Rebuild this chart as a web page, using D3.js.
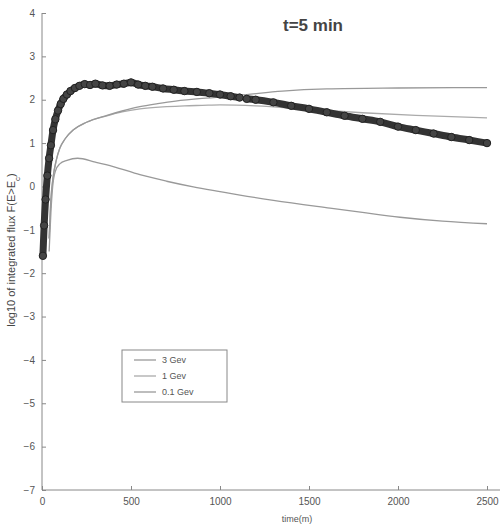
<!DOCTYPE html>
<html>
<head>
<meta charset="utf-8">
<script src="https://cdn.jsdelivr.net/npm/d3@7"></script>
<style>
body { margin: 0; background: #fff; }
svg text { font-family: "Liberation Sans", Arial, sans-serif; fill: #555; }
</style>
</head>
<body>
<svg id="chart" width="503" height="529"></svg>
<script>
// measured series, log10 flux vs time (min)
const dataT = [5,12,20,30,40,50,62,75,90,105,120,140,160,185,210,240,270,300,340,380,420,460,500,540,580,620,680,740,800,870,940,1000,1060,1110,1130,1150,1200,1300,1400,1500,1600,1700,1800,1900,2000,2100,2200,2300,2400,2500]
const dataV = [-1.6,-0.9,-0.3,0.25,0.65,0.95,1.3,1.55,1.75,1.9,2.02,2.12,2.2,2.27,2.32,2.36,2.34,2.37,2.33,2.32,2.35,2.37,2.4,2.35,2.32,2.3,2.26,2.23,2.2,2.18,2.15,2.12,2.08,2.05,null,2.02,2.0,1.94,1.86,1.79,1.71,1.63,1.56,1.49,1.38,1.3,1.22,1.14,1.07,1.0]

const gev01T = [40,50,62,80,100,130,175,250,365,450,550,650,750,900,1000,1150,1350,1600,2000,2500]
const gev01V = [-1.2,-0.3,0.2,0.6,0.88,1.1,1.3,1.48,1.64,1.74,1.84,1.91,1.97,2.03,2.06,2.12,2.2,2.25,2.27,2.28]

const gev1T = [40,50,62,80,100,130,175,250,365,450,550,700,800,900,1000,1200,1500,1800,2100,2500]
const gev1V = [-1.2,-0.3,0.2,0.6,0.88,1.1,1.3,1.48,1.63,1.72,1.79,1.84,1.86,1.87,1.88,1.86,1.78,1.7,1.64,1.58]

const gev3T = [40,50,60,75,100,140,200,300,400,550,700,850,1000,1112,1300,1618,1800,2011,2250,2500]
const gev3V = [-1.5,-0.6,0.0,0.35,0.52,0.6,0.65,0.56,0.46,0.27,0.12,-0.01,-0.12,-0.2,-0.32,-0.5,-0.6,-0.71,-0.8,-0.86]

const legendLabels = ['3 Gev','1 Gev','0.1 Gev']
const xTicks = [0,500,1000,1500,2000,2500]
const yTicks = [-7,-6,-5,-4,-3,-2,-1,0,1,2,3,4]

const svg = d3.select('#chart')

let x = d3.scaleLinear().domain([0,2500]).range([42,487])
let y = d3.scaleLinear().domain([-7,4]).range([490,13])

const zip = (ts, vs) => ts.map((t,i) => ({t:t, v:vs[i]}))

// axes, matlab style ticks pointing in
const xAxis = svg.append('g')
.attr('transform','translate(0,490)')
.call(d3.axisBottom(x).tickValues(xTicks).tickSize(-4).tickPadding(8).tickFormat(d3.format('d')))

const yAxis = svg.append('g')
.attr('transform','translate(42,0)')
.call(d3.axisLeft(y).tickValues(yTicks).tickSize(-4).tickPadding(7).tickFormat(d3.format('d')))

svg.selectAll('.domain').remove()
svg.append('line').attr('x1',42).attr('x2',500).attr('y1',490).attr('y2',490).attr('stroke','#888')
svg.append('line').attr('x1',42).attr('x2',42).attr('y1',13).attr('y2',490).attr('stroke','#888')

svg.selectAll('.tick line').attr('stroke','#888')
svg.selectAll('.tick text').style('font-size','10px').style('fill','#555')

let line = d3.line()
.defined(d => d.v !== null)
.x(d => x(d.t))
.y(d => y(d.v))
.curve(d3.curveMonotoneX)

const grays = [
  {data: zip(gev3T, gev3V), color: '#999'},
  {data: zip(gev1T, gev1V), color: '#aaa'},
  {data: zip(gev01T, gev01V), color: '#999'}
]

grays.forEach(g => {
	svg.append('path')
	.datum(g.data)
	.attr('d', line)
	.attr('fill','none')
	.attr('stroke', g.color)
	.attr('stroke-width', 1.3)
})

// thick marker series
const pts = zip(dataT, dataV)

svg.append('path')
.datum(pts)
.attr('d', line)
.attr('fill','none')
.attr('stroke','#333')
.attr('stroke-width',7)
.attr('stroke-linecap','round')

svg.append('g')
.selectAll('circle')
.data(pts.filter(d => d.v !== null))
.enter()
.append('circle')
.attr('cx', d => x(d.t))
.attr('cy', d => y(d.v))
.attr('r', 3.7)
.style('fill','#444')
.style('stroke','#222')

// title
svg.append('text')
.attr('x',313).attr('y',31)
.attr('text-anchor','middle')
.style('font-size','17px')
.style('font-weight','bold')
.style('fill','#444')
.text('t=5 min')

// axis labels
svg.append('text')
.attr('x',297).attr('y',522)
.attr('text-anchor','middle')
.style('font-size','9px')
.text('time(m)')

const yl = svg.append('text')
.attr('transform','translate(15,250) rotate(-90)')
.attr('text-anchor','middle')
.style('font-size','11px')
.style('fill','#444')
yl.append('tspan').text('log10 of integrated flux F(E>E')
yl.append('tspan').attr('baseline-shift','sub').style('font-size','8px').text('c')
yl.append('tspan').text(')')

// legend
const leg = svg.append('g')
leg.append('rect')
.attr('x',122).attr('y',350).attr('width',105).attr('height',52)
.attr('fill','#fff').attr('stroke','#888')

legendLabels.forEach((l,i) => {
	let yy = 360 + i*16
	leg.append('line')
	.attr('x1',134).attr('x2',156).attr('y1',yy).attr('y2',yy)
	.attr('stroke', grays[i].color).attr('stroke-width',1.3)
	leg.append('text')
	.attr('x',162).attr('y',yy+3)
	.style('font-size','9px')
	.text(l)
})
</script>
</body>
</html>
